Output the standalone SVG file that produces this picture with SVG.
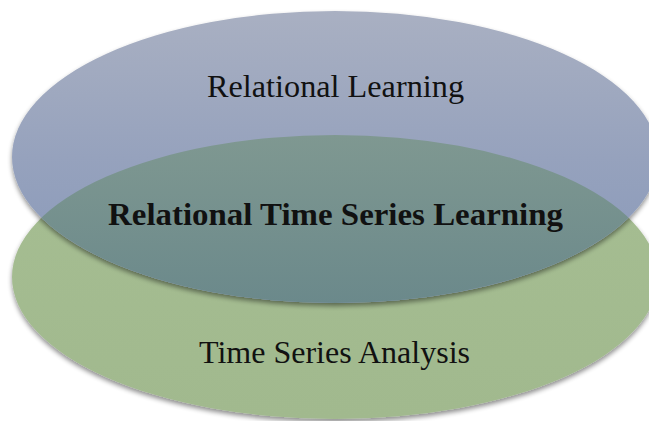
<svg xmlns="http://www.w3.org/2000/svg" width="649" height="421" viewBox="0 0 649 421">
<style>
  .lbl { font-family: "Liberation Serif", "Times New Roman", serif; fill: #111; text-anchor: middle; }
  .reg { font-size: 31.5px; }
  .bold { font-size: 32px; font-weight: bold; }
</style>
<defs>
  <linearGradient id="gBlue" x1="0" y1="11" x2="0" y2="303" gradientUnits="userSpaceOnUse">
    <stop offset="0" stop-color="#a9b0c2"/>
    <stop offset="0.5" stop-color="#96a2bd"/>
    <stop offset="1" stop-color="#8798b9"/>
  </linearGradient>
  <linearGradient id="gGreen" x1="0" y1="135" x2="0" y2="419" gradientUnits="userSpaceOnUse">
    <stop offset="0" stop-color="#a6be92"/>
    <stop offset="1" stop-color="#a1b98e"/>
  </linearGradient>
  <linearGradient id="gOver" x1="0" y1="135" x2="0" y2="303" gradientUnits="userSpaceOnUse">
    <stop offset="0" stop-color="#7f9891"/>
    <stop offset="1" stop-color="#6b898b"/>
  </linearGradient>
  <filter id="shadow" x="-5%" y="-5%" width="110%" height="115%">
    <feGaussianBlur in="SourceAlpha" stdDeviation="2.5"/>
    <feOffset dx="0" dy="2.5" result="b"/>
    <feComponentTransfer><feFuncA type="linear" slope="0.45"/></feComponentTransfer>
    <feMerge><feMergeNode/><feMergeNode in="SourceGraphic"/></feMerge>
  </filter>
  <clipPath id="clipGreen">
    <ellipse cx="335" cy="277" rx="323" ry="142"/>
  </clipPath>
</defs>
<g id="node-time-series-analysis">
  <ellipse cx="335" cy="277" rx="323" ry="142" fill="url(#gGreen)" filter="url(#shadow)"/>
</g>
<g id="node-relational-learning">
  <ellipse cx="335" cy="157" rx="323" ry="146" fill="url(#gBlue)" filter="url(#shadow)"/>
</g>
<g id="node-overlap">
  <ellipse cx="335" cy="157" rx="323" ry="146" fill="url(#gOver)" clip-path="url(#clipGreen)"/>
</g>
<g id="connectors"></g>
<g id="labels">
  <text class="lbl reg" x="335.5" y="97" textLength="257" lengthAdjust="spacingAndGlyphs">Relational Learning</text>
  <text class="lbl bold" x="335.5" y="225" textLength="455" lengthAdjust="spacingAndGlyphs">Relational Time Series Learning</text>
  <text class="lbl reg" x="334.5" y="363" textLength="271" lengthAdjust="spacingAndGlyphs">Time Series Analysis</text>
</g>
</svg>
